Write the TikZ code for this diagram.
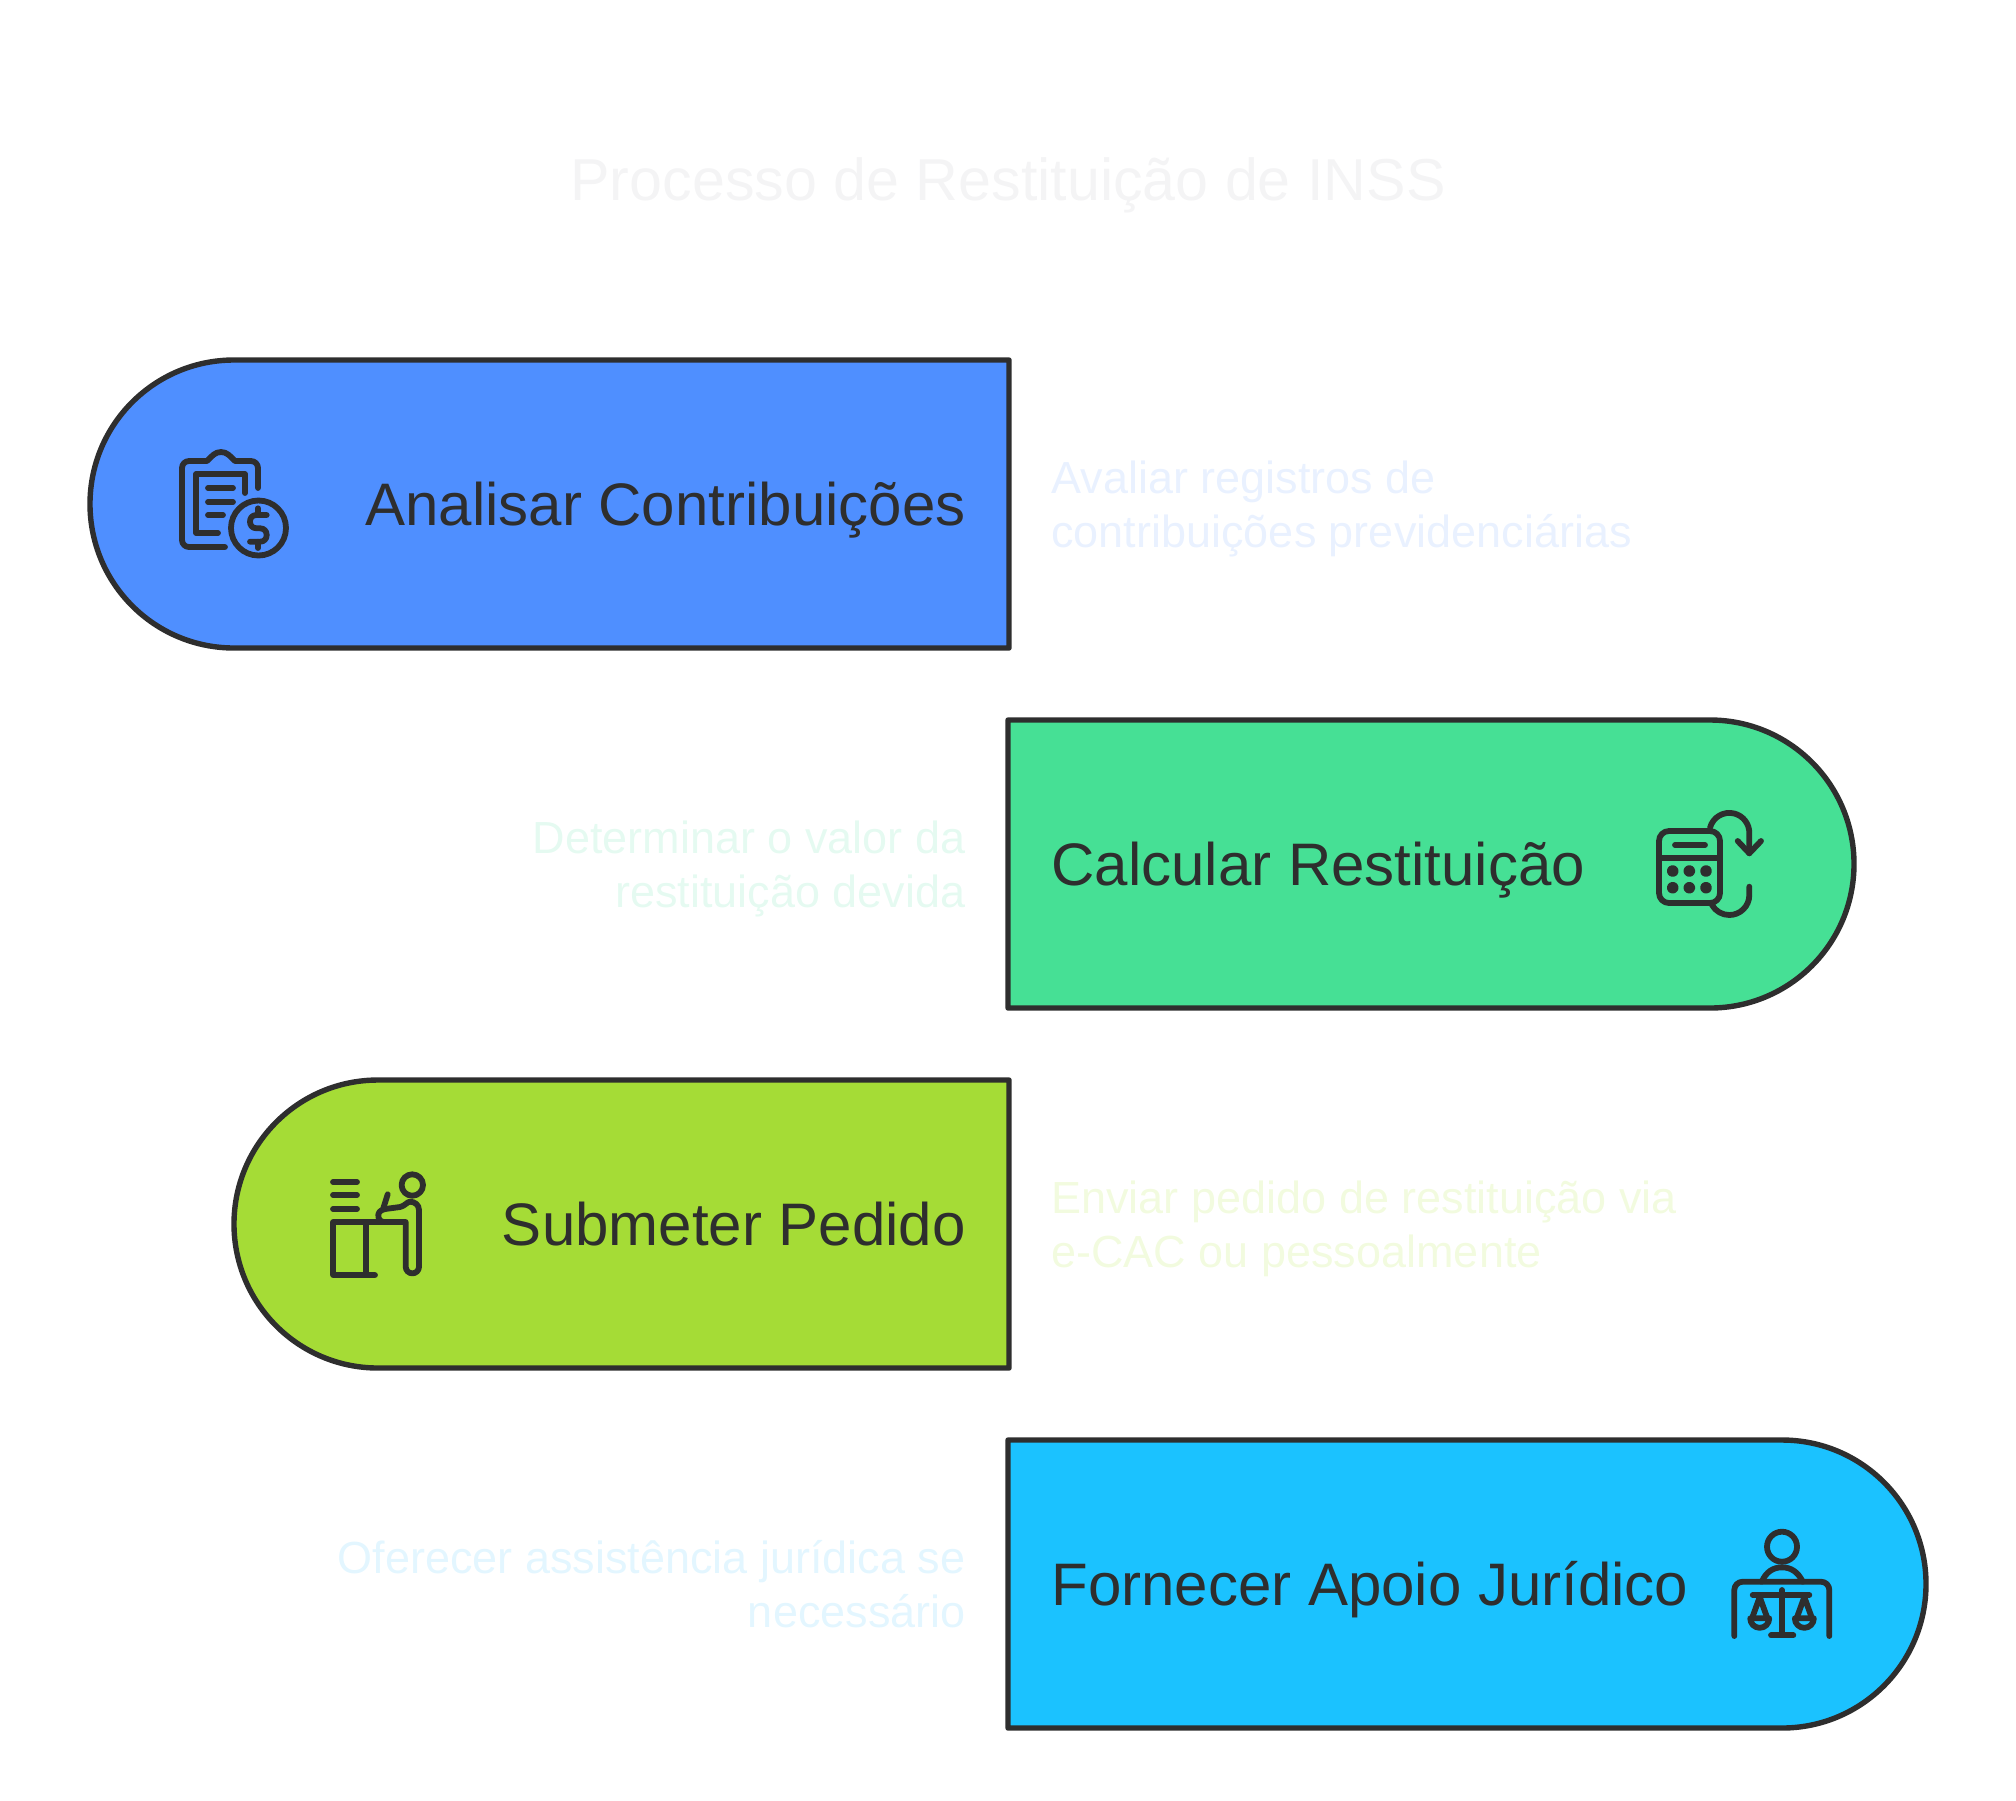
\documentclass[tikz,border=0pt]{standalone}
\usepackage{fontspec}
\setmainfont{Liberation Sans}
\definecolor{inkdark}{HTML}{2E2E2E}
\definecolor{pillblue}{HTML}{4F8FFF}
\definecolor{pillgreen}{HTML}{46E095}
\definecolor{pilllime}{HTML}{A5DC36}
\definecolor{pillcyan}{HTML}{1BC2FF}
\definecolor{titlegray}{HTML}{F4F4F5}
\definecolor{descblue}{HTML}{E9F1FF}
\definecolor{descgreen}{HTML}{E5FAF1}
\definecolor{desclime}{HTML}{F2FBDF}
\definecolor{desccyan}{HTML}{E3F6FF}
\begin{document}
\begin{tikzpicture}[x=0.5pt,y=-0.5pt,
  pill/.style={draw=inkdark,line width=2.7pt,line join=round},
  icon/.style={draw=inkdark,line width=2.9pt,line cap=round,line join=round},
  labeltext/.style={inner sep=0pt,execute at begin node=\strut,execute at end node=\strut},
  boxlabel/.style={labeltext,text=inkdark,font=\fontsize{30}{36}\selectfont},
  desclabel/.style={labeltext,font=\fontsize{22.5}{27}\selectfont}]
\useasboundingbox (0,0) rectangle (2016,1800);
\node[labeltext,text=titlegray,font=\fontsize{29.6}{36}\selectfont] (title) at (1008,186) {Processo de Restituição de INSS};
\filldraw[pill,fill=pillblue,rounded corners=72pt] (1009,360) -- (90,360) -- (90,648) [sharp corners] -- (1009,648) --cycle;
\filldraw[pill,fill=pillgreen,rounded corners=72pt] (1008,720) -- (1854,720) -- (1854,1008) [sharp corners] -- (1008,1008) --cycle;
\filldraw[pill,fill=pilllime,rounded corners=72pt] (1009,1080) -- (234,1080) -- (234,1368) [sharp corners] -- (1009,1368) --cycle;
\filldraw[pill,fill=pillcyan,rounded corners=72pt] (1008,1440) -- (1926,1440) -- (1926,1728) [sharp corners] -- (1008,1728) --cycle;
\node[boxlabel,anchor=east] (analisar) at (966,511) {Analisar Contribuições};
\node[boxlabel,anchor=west] (calcular) at (1051,871) {Calcular Restituição};
\node[boxlabel,anchor=east] (submeter) at (966,1231) {Submeter Pedido};
\node[boxlabel,anchor=west] (fornecer) at (1051,1591) {Fornecer Apoio Jurídico};
\node[desclabel,text=descblue,anchor=west,align=left] (avaliar) at (1051,512) {Avaliar registros de\\contribuições previdenciárias};
\node[desclabel,text=descgreen,anchor=east,align=right] (determinar) at (966,872) {Determinar o valor da\\restituição devida};
\node[desclabel,text=desclime,anchor=west,align=left] (enviar) at (1051,1232) {Enviar pedido de restituição via\\e-CAC ou pessoalmente};
\node[desclabel,text=desccyan,anchor=east,align=right] (oferecer) at (966,1592) {Oferecer assistência jurídica se\\necessário};
% clipboard
\draw[icon] (225,547) -- (189,547) arc (90:180:7) -- (182,468) arc (180:270:7) -- (207,461) .. controls (212,456) and (215,452) .. (221,452) .. controls (227,452) and (230,456) .. (235,461) -- (251,461) arc (270:360:7) -- (258,488);
\draw[icon] (245,493) -- (245,474) -- (196,474) -- (196,533) -- (218,533);
\draw[icon] (208,488) -- (233,488);
\draw[icon] (208,502) -- (233,502);
\draw[icon] (208,515) -- (223,515);
\draw[icon] (258.5,528) circle[radius=27.5];
\draw[icon] (266.7,515) -- (256.7,515) .. controls (252,515) and (250,518) .. (250,521.7) .. controls (250,525) and (252,528.3) .. (256.7,528.3) -- (260,528.3) .. controls (264,528.3) and (266.7,531) .. (266.7,535) .. controls (266.7,539) and (264,541.7) .. (260,541.7) -- (250,541.7);
\draw[icon] (258,508.3) -- (258,515);
\draw[icon] (258,541.7) -- (258,548);
% calculator
\draw[icon,rounded corners=5pt] (1659,831) rectangle (1720,903);
\draw[icon] (1659,858) -- (1720,858);
\draw[icon] (1675,845) -- (1705,845);
\foreach \dotx in {1672.7,1689.3,1706} \foreach \doty in {871,887.7}
  \draw[icon] (\dotx,\doty) circle[radius=3];
\draw[icon] (1710,827.7) arc (195:360:20) -- (1749.3,853.3);
\draw[icon] (1737.7,841) -- (1749.3,853.3) -- (1761,841);
\draw[icon] (1749.3,886.7) -- (1749.3,895) arc (0:150:20);
% desk
\draw[icon] (333,1182) -- (357,1182);
\draw[icon] (333,1195) -- (357,1195);
\draw[icon] (333,1209) -- (357,1209);
\draw[icon] (375,1275) -- (333,1275) -- (333,1222) -- (405.7,1222) -- (405.7,1266.7) arc (180:0:6.65) -- (419,1210) .. controls (419,1205) and (415,1201.7) .. (410,1201.7) .. controls (407,1201.7) and (405,1206) .. (400,1207) -- (385,1209) .. controls (380,1210) and (378.3,1213) .. (378.3,1215) .. controls (378.3,1219) and (380,1221.7) .. (384,1222);
\draw[icon] (365.7,1222) -- (365.7,1275);
\draw[icon] (387.7,1194.3) -- (383.3,1208.3);
\draw[icon] (412.3,1185) circle[radius=10.7];
% scales
\draw[icon] (1782,1546.7) circle[radius=15];
\draw[icon] (1761.7,1581.7) .. controls (1766,1572) and (1773,1567.3) .. (1782,1567.3) .. controls (1791,1567.3) and (1798,1572) .. (1802.7,1581.7);
\draw[icon] (1734.3,1636) -- (1734.3,1590) arc (180:270:8.3) -- (1821,1581.7) arc (270:360:8.3) -- (1829.3,1636);
\draw[icon] (1752.7,1595) -- (1809.3,1595);
\draw[icon] (1782,1590) -- (1782,1635);
\draw[icon] (1771,1635.3) -- (1793.3,1635.3);
\draw[icon] (1750.2,1618.3) arc (180:0:9.5) --cycle;
\draw[icon] (1794.8,1618.3) arc (180:0:9.5) --cycle;
\draw[icon] (1752,1618.3) -- (1759.7,1597) -- (1767.4,1618.3);
\draw[icon] (1796.6,1618.3) -- (1804.3,1597) -- (1812,1618.3);
\end{tikzpicture}
\end{document}
